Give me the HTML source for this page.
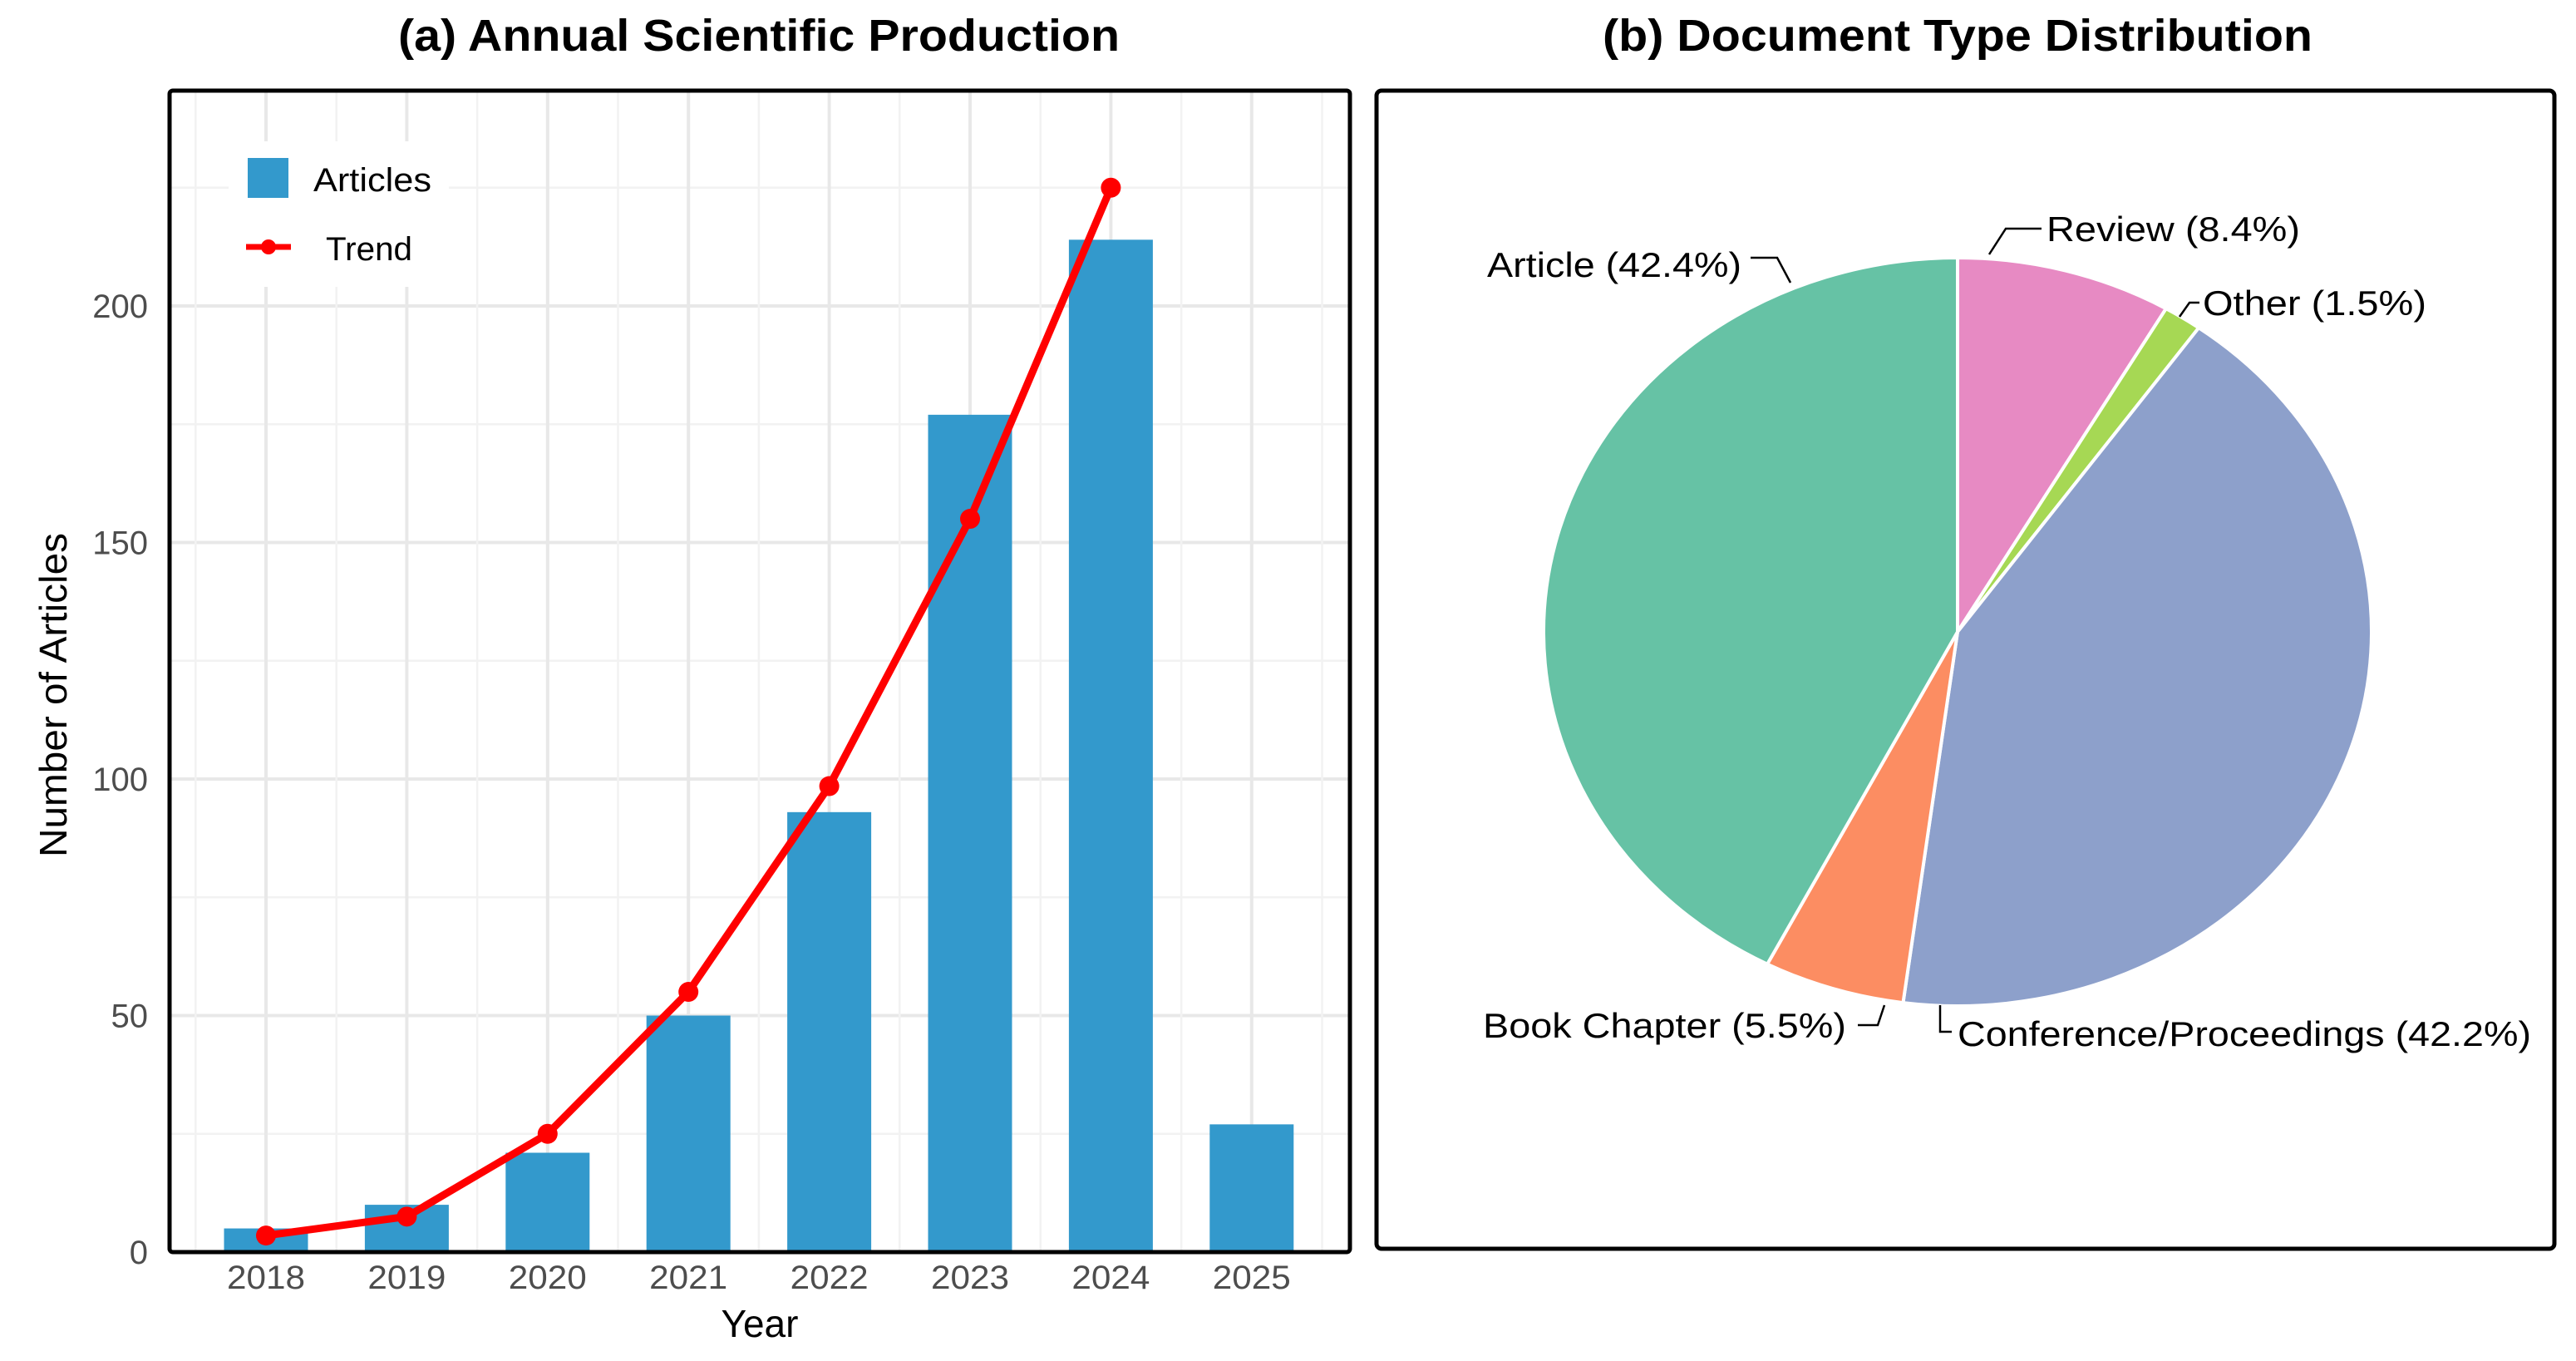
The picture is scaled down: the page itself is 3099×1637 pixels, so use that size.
<!DOCTYPE html>
<html><head><meta charset="utf-8"><style>
html,body{margin:0;padding:0;background:#fff;}
svg text{font-family:"Liberation Sans",Arial,sans-serif;}
</style></head><body>
<svg id="fig" width="3099" height="1632" viewBox="0 0 3099 1632" xmlns="http://www.w3.org/2000/svg">
<rect x="0" y="0" width="3099" height="1632" fill="#fff"/>
<text x="913" y="61" font-size="54" font-weight="bold" text-anchor="middle" textLength="868" lengthAdjust="spacingAndGlyphs">(a) Annual Scientific Production</text>
<text x="2355" y="61" font-size="54" font-weight="bold" text-anchor="middle" textLength="854" lengthAdjust="spacingAndGlyphs">(b) Document Type Distribution</text>
<g id="bar"></g>
<g id="pie"></g>
</svg>
<script>
const years = ["2018","2019","2020","2021","2022","2023","2024","2025"];
const articles = [5,10,21,50,93,177,214,27];
const trend = [3.5,7.5,25,55,98.5,155,225];
const yTicks = [0,50,100,150,200];
const pieLabels = ["Review (8.4%)","Other (1.5%)","Conference/Proceedings (42.2%)","Book Chapter (5.5%)","Article (42.4%)"];
const pieValues = [8.4,1.5,42.2,5.5,42.4];
const pieColors = ["#e78ac3","#a6d854","#8da0cb","#fc8d62","#66c2a5"];

const NS="http://www.w3.org/2000/svg";
function mk(tag,attrs,parent){const e=document.createElementNS(NS,tag);for(const k in attrs)e.setAttribute(k,attrs[k]);parent.appendChild(e);return e;}

// ---- bar chart ----
const bar=document.getElementById('bar');
const x0=320, dx=169.4, y0=1506, ky=284.5/50;
const X=i=>x0+i*dx, Y=v=>y0-v*ky;
const L=204,R=1624,T=109,B=1506;
for(let v=25;v<=240;v+=25){const g=mk('line',{x1:L,x2:R,y1:Y(v),y2:Y(v),stroke:v%50==0?'#e8e8e8':'#f2f2f2','stroke-width':v%50==0?4:2.5},bar);

}
for(let i=-0.5;i<=7.6;i+=0.5){const xx=X(i);if(xx<L||xx>R)continue;const g=mk('line',{x1:xx,x2:xx,y1:T,y2:B,stroke:Number.isInteger(i)?'#e8e8e8':'#f2f2f2','stroke-width':Number.isInteger(i)?4:2.5},bar);

}
articles.forEach((v,i)=>{const r=mk('rect',{x:X(i)-50.5,y:Y(v),width:101,height:v*ky,fill:'#3399cc'},bar);

});
const pts=trend.map((v,i)=>X(i)+','+Y(v)).join(' ');
const pl=mk('polyline',{points:pts,fill:'none',stroke:'#ff0000','stroke-width':9,'stroke-linejoin':'round'},bar);


trend.forEach((v,i)=>{const c=mk('circle',{cx:X(i),cy:Y(v),r:12,fill:'#ff0000'},bar);

});
const fr=mk('rect',{x:L,y:T,width:R-L,height:B-T,fill:'none',stroke:'#000','stroke-width':5,rx:4},bar);


yTicks.forEach(v=>{const t=mk('text',{x:178,y:Y(v)+14,'font-size':40,fill:'#4d4d4d','text-anchor':'end'},bar);t.textContent=v;

});
years.forEach((y,i)=>{const t=mk('text',{x:X(i),y:1550,'font-size':40,fill:'#4d4d4d','text-anchor':'middle','textLength':94,'lengthAdjust':'spacingAndGlyphs'},bar);t.textContent=y;

});
const xt=mk('text',{x:914,y:1608,'font-size':46,'text-anchor':'middle'},bar);xt.textContent='Year';


const yt=mk('text',{x:0,y:0,'font-size':46,'text-anchor':'middle',transform:'translate(80,836) rotate(-90)','textLength':390,'lengthAdjust':'spacingAndGlyphs'},bar);yt.textContent='Number of Articles';


const lg=mk('g',{},bar);


mk('rect',{x:275,y:170,width:265,height:175,fill:'#fff'},lg);
const ls=mk('rect',{x:298,y:190,width:49,height:48,fill:'#3399cc'},lg);


const la=mk('text',{x:377,y:230,'font-size':40,'textLength':142,'lengthAdjust':'spacingAndGlyphs'},lg);la.textContent='Articles';


const ll=mk('line',{x1:296,x2:350,y1:297,y2:297,stroke:'#ff0000','stroke-width':7},lg);


mk('circle',{cx:323,cy:297,r:9,fill:'#ff0000'},lg);
const lt=mk('text',{x:392,y:313,'font-size':40,'textLength':104,'lengthAdjust':'spacingAndGlyphs'},lg);lt.textContent='Trend';



// ---- pie chart ----
const pie=document.getElementById('pie');
const pf=mk('rect',{x:1656,y:109,width:1417,height:1393,fill:'none',stroke:'#000','stroke-width':5,rx:6},pie);


const cx=2355,cy=760,rx=498,ry=450;
const total=pieValues.reduce((a,b)=>a+b,0);
let acc=0;
pieValues.forEach((v,i)=>{
 const a0=acc/total*2*Math.PI; acc+=v; const a1=acc/total*2*Math.PI;
 const p0=[cx+rx*Math.sin(a0),cy-ry*Math.cos(a0)], p1=[cx+rx*Math.sin(a1),cy-ry*Math.cos(a1)];
 const large=(a1-a0)>Math.PI?1:0;
 const d=`M${cx},${cy} L${p0[0]},${p0[1]} A${rx},${ry} 0 ${large} 1 ${p1[0]},${p1[1]} Z`;
 const p=mk('path',{d:d,fill:pieColors[i],stroke:'#fff','stroke-width':4,'stroke-linejoin':'round'},pie);
 
 
});
const lbl=[
 {t:pieLabels[0],x:2462,y:290,a:'start',w:305,l:'2393,306 2413,275 2456,275'},
 {t:pieLabels[1],x:2650,y:379,a:'start',w:269,l:'2622,381 2634,364 2646,364'},
 {t:pieLabels[2],x:2355,y:1258,a:'start',w:690,l:'2334,1209 2334,1241 2348,1241'},
 {t:pieLabels[3],x:2221,y:1248,a:'end',w:437,l:'2235,1233 2259,1233 2267,1209'},
 {t:pieLabels[4],x:2095,y:333,a:'end',w:306,l:'2106,310 2138,310 2154,340'}
];
lbl.forEach(o=>{
 const pl=mk('polyline',{points:o.l,fill:'none',stroke:'#000','stroke-width':2.5},pie);
 
 
 const t=mk('text',{x:o.x,y:o.y,'font-size':42,'text-anchor':o.a,textLength:o.w,lengthAdjust:'spacingAndGlyphs'},pie);t.textContent=o.t;
 
 
});
</script>
</body></html>
